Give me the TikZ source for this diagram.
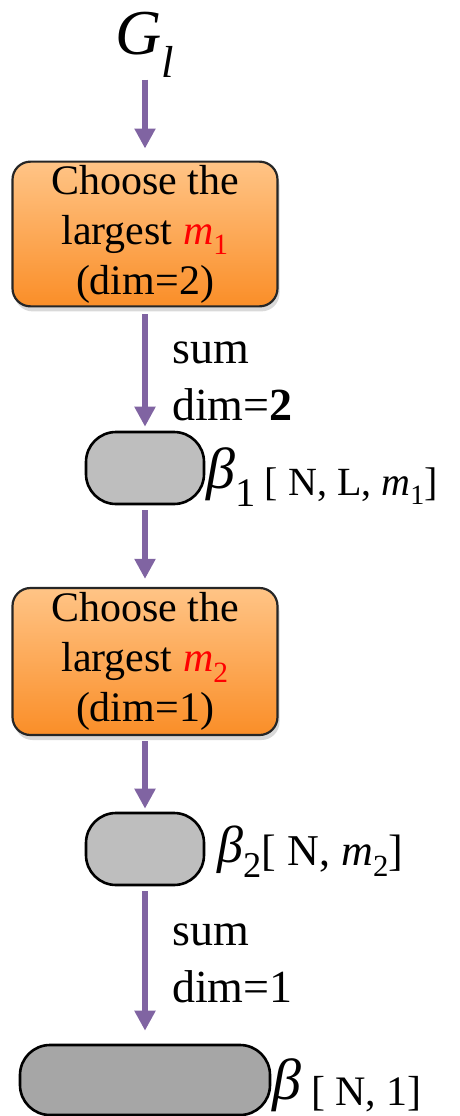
\documentclass[tikz,border=0pt]{standalone}
\usepackage{fontspec}
\setmainfont{Liberation Serif}
\usetikzlibrary{arrows.meta,positioning,shadows}
\definecolor{flowpurple}{RGB}{128,100,162}
\definecolor{boxtop}{RGB}{255,196,134}
\definecolor{boxbot}{RGB}{250,142,40}
\definecolor{capgray}{RGB}{190,190,190}
\definecolor{capdark}{RGB}{166,166,166}
\newcommand{\var}[2]{{\itshape #1}\textsubscript{#2}}
\begin{document}
\begin{tikzpicture}[x=1pt, y=-1pt,
    choosebox/.style={draw=black!85, line width=2.2pt, rounded corners=18pt,
      top color=boxtop, bottom color=boxbot, minimum width=265pt, align=center,
      font=\fontsize{42}{50}\selectfont,
      drop shadow={opacity=0.3, shadow xshift=2pt, shadow yshift=-5pt}},
    capsule/.style={draw=black, line width=2.6pt, rounded corners=30pt,
      fill=capgray, minimum width=118pt, minimum height=72pt},
    flow/.style={draw=flowpurple, line width=6pt, -{Triangle[width=20pt,length=20pt]}},
    dimlbl/.style={anchor=base west, inner sep=0pt, font=\fontsize{46}{46}\selectfont}]
  \useasboundingbox (0,0) rectangle (460,1116);
  % input
  \node[inner sep=0pt, anchor=base, font=\fontsize{64}{64}\selectfont] (gl) at (145,55) {\var{G}{\itshape l}};
  % first step
  \node[choosebox, minimum height=144pt] (choose1) at (145,234)
    {Choose the\\largest {\color{red}\var{m}{1}}\\(dim=2)};
  \node[capsule] (cap1) at (145,468) {};
  \node[inner sep=0pt, anchor=base west] (beta1) at (206,488)
    {\fontsize{58}{58}\selectfont\var{β}{1}\hspace{9pt}\fontsize{40}{40}\selectfont\raisebox{-7pt}{[ N, L, \var{m}{1}]}};
  % second step
  \node[choosebox, minimum height=147pt] (choose2) at (145,661.5)
    {Choose the\\largest {\color{red}\var{m}{2}}\\(dim=1)};
  \node[capsule] (cap2) at (145,849) {};
  \node[inner sep=0pt, anchor=base west] (beta2) at (217,862)
    {\fontsize{52}{52}\selectfont\var{β}{2}\fontsize{44}{44}\selectfont\raisebox{-3pt}{[ N, \var{m}{2}]}};
  % output
  \node[capsule, minimum width=250pt, minimum height=70pt, fill=capdark] (cap3) at (145,1080) {};
  \node[inner sep=0pt, anchor=base west] (beta) at (272,1099)
    {\fontsize{58}{58}\selectfont{\itshape β}\hspace{10pt}\fontsize{42}{42}\selectfont\raisebox{-6pt}{[ N, 1]}};
  % sum labels
  \node[dimlbl] (sum1) at (172,363) {sum};
  \node[dimlbl] (dim1) at (172,420) {dim=\textbf{2}};
  \node[dimlbl] (sum2) at (172,945) {sum};
  \node[dimlbl] (dim2) at (172,1002) {dim=1};
  % arrows
  \foreach \a/\b/\s/\e in {gl/choose1/2pt/12pt, choose1/cap1/7pt/4pt,
      cap1/choose2/5pt/8pt, choose2/cap2/5pt/3pt, cap2/cap3/5pt/13pt}
    \draw[flow, shorten <=\s, shorten >=\e] (\a.south) -- (\b.north);
\end{tikzpicture}
\end{document}
